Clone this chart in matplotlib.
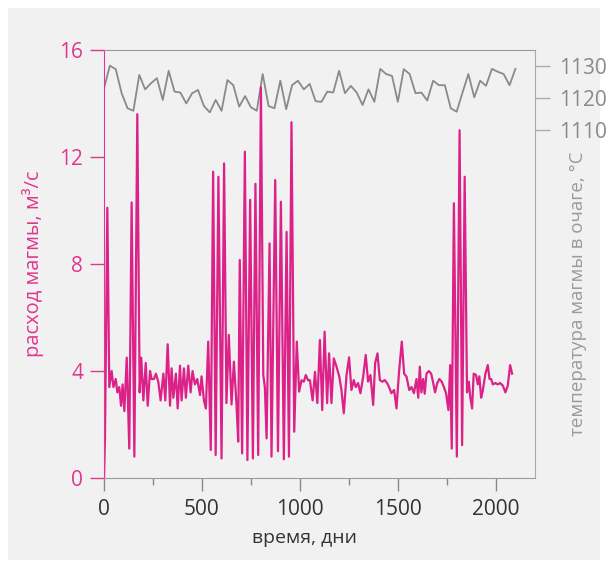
import numpy as np
import matplotlib
matplotlib.use("Agg")
import matplotlib.pyplot as plt
from matplotlib.patches import Rectangle

plt.rcParams['font.family'] = ['Open Sans', 'DejaVu Sans']

PINK = '#dc2188'
PINK_TXT = '#e0378f'
GRAY = '#8a8a8a'

# расход магмы (дни, м3/с)
t_rate = [0, 5, 10, 17, 27, 39, 48, 60, 68, 78, 87, 95, 104, 116, 129, 141, 155, 170, 182, 190,
          201, 213, 223, 235, 243, 255, 265, 277, 289, 303, 313, 325, 337, 345, 354, 367, 376, 388, 396, 408,
          418, 430, 442, 452, 464, 476, 490, 498, 510, 520, 532, 545, 557, 570, 584, 600, 613, 625, 637, 651,
          663, 676, 685, 693, 705, 719, 732, 746, 760, 773, 787, 801, 813, 821, 830, 845, 855, 874, 888, 903,
          918, 932, 944, 957, 971, 984, 996, 1008, 1020, 1030, 1042, 1051, 1065, 1077, 1089, 1102, 1114, 1126, 1139, 1149,
          1161, 1173, 1187, 1201, 1212, 1224, 1238, 1251, 1263, 1275, 1285, 1297, 1309, 1323, 1336, 1348, 1360, 1374, 1384, 1396,
          1408, 1421, 1433, 1445, 1455, 1467, 1481, 1493, 1506, 1520, 1532, 1544, 1558, 1570, 1582, 1595, 1604, 1612, 1620, 1629,
          1637, 1646, 1658, 1670, 1679, 1690, 1701, 1712, 1724, 1735, 1746, 1758, 1767, 1775, 1786, 1801, 1815, 1828, 1841, 1853,
          1862, 1870, 1879, 1887, 1899, 1908, 1916, 1925, 1933, 1947, 1959, 1968, 1976, 1985, 1998, 2010, 2022, 2036, 2049, 2061,
          2073, 2083]
rate = [0, 1.5, 5.0, 10.1, 3.4, 4.0, 3.4, 3.7, 3.2, 3.4, 2.7, 3.5, 2.5, 4.5, 1.1, 10.3, 0.8, 13.6, 3.2, 4.5,
        2.9, 4.3, 2.7, 4.0, 3.7, 3.7, 3.9, 3.6, 2.9, 3.9, 2.9, 5.0, 2.7, 4.1, 3.0, 3.9, 2.6, 4.2, 2.9, 4.1,
        3.0, 4.2, 3.2, 4.0, 3.5, 3.7, 3.1, 3.8, 2.9, 2.6, 5.1, 1.05, 11.45, 0.86, 11.26, 0.73, 11.76, 2.8, 5.35, 2.75,
        4.35, 2.8, 1.36, 8.15, 0.92, 12.2, 0.67, 10.4, 0.73, 11.0, 0.86, 14.6, 3.85, 3.4, 1.48, 8.77, 0.8, 11.14, 1.0, 10.33,
        0.7, 9.2, 0.8, 13.3, 1.73, 5.1, 3.23, 3.65, 3.6, 3.85, 3.65, 3.66, 2.9, 3.97, 2.8, 5.16, 2.54, 5.47, 2.8, 4.66,
        2.8, 4.47, 4.16, 3.79, 3.29, 2.42, 3.85, 4.51, 3.29, 3.66, 3.4, 3.55, 3.17, 3.79, 4.6, 3.6, 3.85, 2.73, 4.29, 4.66,
        3.66, 3.6, 3.66, 3.55, 3.4, 3.17, 3.29, 2.6, 3.97, 5.1, 3.9, 3.79, 3.29, 3.4, 3.17, 3.7, 3.0, 4.16, 3.2, 3.7,
        3.15, 3.9, 4.0, 3.9, 3.6, 3.2, 3.55, 3.7, 3.6, 3.4, 3.17, 2.54, 4.22, 1.1, 10.27, 0.8, 13.0, 1.23, 11.26, 3.2,
        3.6, 3.0, 2.6, 3.9, 3.85, 3.5, 3.8, 3.0, 3.25, 3.9, 4.22, 3.7, 3.7, 3.5, 3.55, 3.5, 3.55, 3.45, 3.2, 3.45,
        4.22, 3.9]

# температура магмы в очаге (каждые 30 дней)
t_temp = list(range(0, 2101, 30))
temp = [1123.0, 1130.1, 1129.0, 1121.5, 1116.8, 1116.0, 1127.2, 1122.7, 1124.6, 1126.2,
        1119.4, 1128.5, 1122.0, 1121.7, 1118.3, 1121.5, 1122.5, 1117.5, 1115.5, 1119.4,
        1116.0, 1125.6, 1124.0, 1117.3, 1120.6, 1117.1, 1116.0, 1127.5, 1117.5, 1116.8,
        1125.4, 1116.5, 1124.0, 1125.4, 1122.7, 1124.4, 1119.0, 1118.8, 1122.0, 1121.7,
        1128.5, 1121.5, 1123.8, 1121.7, 1117.8, 1122.7, 1118.8, 1129.1, 1127.5, 1126.9,
        1118.8, 1129.0, 1127.5, 1121.5, 1121.7, 1119.2, 1125.4, 1124.0, 1124.0, 1116.8,
        1115.7, 1121.7, 1127.5, 1120.2, 1125.4, 1123.8, 1129.1, 1128.2, 1127.5, 1124.0,
        1129.1]

fig = plt.figure(figsize=(6.09, 5.68), dpi=100)
fig.patch.set_facecolor('white')
fig.patches.append(Rectangle((8 / 609, 8 / 568), 592 / 609, 552 / 568,
                             transform=fig.transFigure, facecolor='#f1f1f1',
                             edgecolor='none', zorder=-10))

ax = fig.add_axes([104 / 609, 90 / 568, 431 / 609, 428 / 568])
ax2 = ax.twinx()
ax.set_zorder(ax2.get_zorder() + 1)
ax.patch.set_visible(False)
ax2.patch.set_visible(False)

ax2.plot(t_temp, temp, color=GRAY, lw=1.3)
ax.plot(t_rate, rate, color=PINK, lw=1.6)

ax.set_xlim(0, 2200)
ax.set_ylim(0, 16)
ax2.set_ylim(1001.25, 1135)

ax.set_xticks([0, 500, 1000, 1500, 2000])
ax.set_xticks([250, 750, 1250, 1750], minor=True)
ax.set_yticks([0, 4, 8, 12, 16])
ax2.set_yticks([1110, 1120, 1130])

for s in ['top', 'bottom']:
    ax.spines[s].set_color('#9a9a9a')
ax.spines['left'].set_color(PINK_TXT)
ax.spines['right'].set_visible(False)
for s in ['top', 'left', 'bottom']:
    ax2.spines[s].set_visible(False)
ax2.spines['right'].set_color('#aaaaaa')

ax.tick_params(axis='x', which='major', length=9, width=1, color='#888888',
               labelsize=15, labelcolor='#333333', pad=6)
ax.tick_params(axis='x', which='minor', length=5, width=1, color='#888888')
ax.tick_params(axis='y', length=10, width=1, color=PINK_TXT,
               labelsize=15, labelcolor=PINK_TXT, pad=5)
ax2.tick_params(axis='y', length=11, width=1, color='#aaaaaa',
                labelsize=15, labelcolor=GRAY, pad=6)

ax.set_xlabel('время, дни', fontsize=14, color='#333333')
ax.xaxis.set_label_coords(0.466, -0.12)
ax.set_ylabel('расход магмы, м³/с', fontsize=14.5, color=PINK_TXT)
ax.yaxis.set_label_coords(-0.14, 0.5)
ax2.set_ylabel('температура магмы в очаге, °С', fontsize=13.5, color='#9a9a9a')
ax2.yaxis.set_label_coords(1.08, 0.43)

fig.savefig('out.png', dpi=100, facecolor=fig.get_facecolor())
